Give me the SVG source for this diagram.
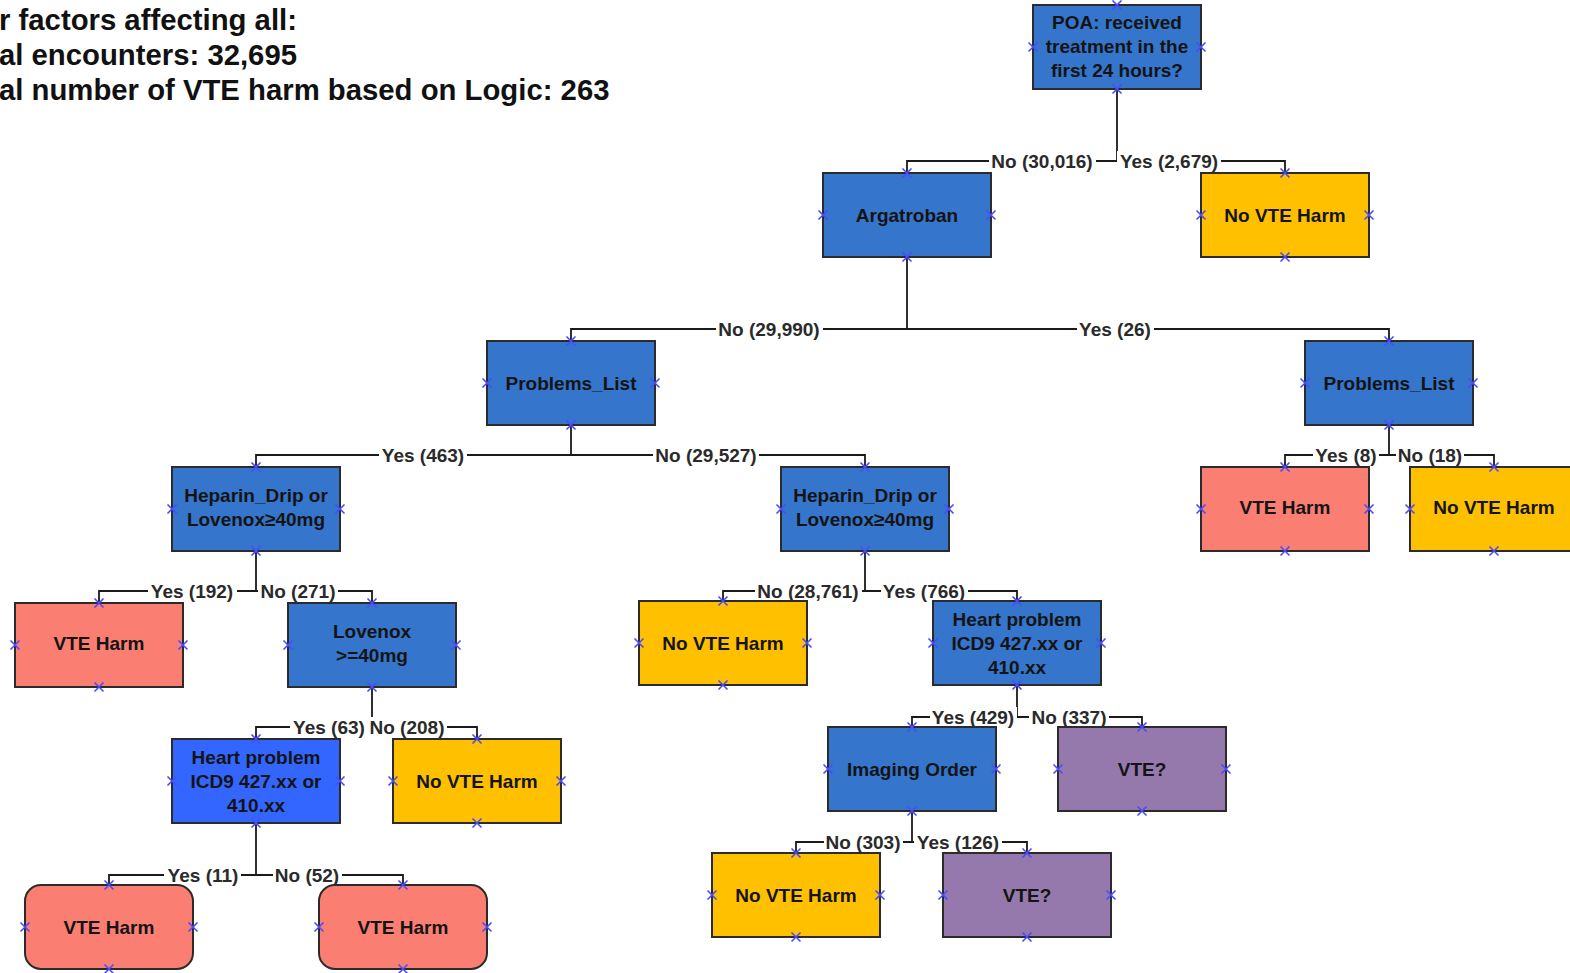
<svg xmlns="http://www.w3.org/2000/svg" xmlns:xlink="http://www.w3.org/1999/xlink" width="1570" height="973" viewBox="0 0 1570 973">
<style>
.box{stroke:#2b2b2b;stroke-width:2}
.blue{fill:#3575CB}
.bright{fill:#3366FF}
.yellow{fill:#FFC000}
.red{fill:#FA7F72}
.purple{fill:#9579AD}
.nt{font-family:"Liberation Sans",Arial,sans-serif;font-weight:bold;font-size:19px;fill:#141414;text-anchor:middle}
.lt{font-family:"Liberation Sans",Arial,sans-serif;font-weight:bold;font-size:19px;fill:#2a2a2a;text-anchor:middle}
.ttl{font-family:"Liberation Sans",Arial,sans-serif;font-weight:bold;font-size:29.3px;fill:#111}
.ln{fill:none;stroke:#1a1a1a;stroke-width:1.8}
.lb{fill:#ffffff}
</style>
<defs>
<path id="cp" d="M-4.5,-4.5 L4.5,4.5 M-4.5,4.5 L4.5,-4.5" stroke="#4a4aff" stroke-width="1.6" fill="none"/>
</defs>
<rect width="1570" height="973" fill="#ffffff"/>

<g id="title">
<text class="ttl" x="-1" y="30">r factors affecting all:</text>
<text class="ttl" x="-1" y="65">al encounters: 32,695</text>
<text class="ttl" x="-1" y="100">al number of VTE harm based on Logic: 263</text>
</g>

<g id="connectors">
<path class="ln" d="M1117,89 V161 M907,173 V161 H1285 V173"/>
<path class="ln" d="M907,257 V329 M571,341 V329 H1389 V341"/>
<path class="ln" d="M571,425 V455 M256,467 V455 H865 V467"/>
<path class="ln" d="M1389,425 V455 M1285,467 V455 H1494 V467"/>
<path class="ln" d="M256,551 V591 M99,603 V591 H372 V603"/>
<path class="ln" d="M865,551 V591 M723,601 V591 H1017 V601"/>
<path class="ln" d="M372,687 V727 M256,739 V727 H477 V739"/>
<path class="ln" d="M1017,685 V717 M912,727 V717 H1142 V727"/>
<path class="ln" d="M256,823 V875 M109,885 V875 H403 V885"/>
<path class="ln" d="M912,811 V842 M796,853 V842 H1027 V853"/>
<g id="labels">
<rect class="lb" x="989" y="151" width="107" height="20"/><text class="lt" x="1042" y="168">No (30,016)</text>
<rect class="lb" x="1117" y="151" width="104" height="20"/><text class="lt" x="1169" y="168">Yes (2,679)</text>
<rect class="lb" x="716" y="319" width="107" height="20"/><text class="lt" x="769" y="336">No (29,990)</text>
<rect class="lb" x="1077" y="319" width="77" height="20"/><text class="lt" x="1115" y="336">Yes (26)</text>
<rect class="lb" x="379" y="445" width="88" height="20"/><text class="lt" x="423" y="462">Yes (463)</text>
<rect class="lb" x="653" y="445" width="106" height="20"/><text class="lt" x="706" y="462">No (29,527)</text>
<rect class="lb" x="1313" y="445" width="66" height="20"/><text class="lt" x="1346" y="462">Yes (8)</text>
<rect class="lb" x="1396" y="445" width="68" height="20"/><text class="lt" x="1430" y="462">No (18)</text>
<rect class="lb" x="148" y="581" width="89" height="20"/><text class="lt" x="192" y="598">Yes (192)</text>
<rect class="lb" x="258" y="581" width="80" height="20"/><text class="lt" x="298" y="598">No (271)</text>
<rect class="lb" x="755" y="581" width="107" height="20"/><text class="lt" x="808" y="598">No (28,761)</text>
<rect class="lb" x="881" y="581" width="87" height="20"/><text class="lt" x="924" y="598">Yes (766)</text>
<rect class="lb" x="290" y="717" width="77" height="20"/><text class="lt" x="329" y="734">Yes (63)</text>
<rect class="lb" x="367" y="717" width="80" height="20"/><text class="lt" x="407" y="734">No (208)</text>
<rect class="lb" x="930" y="707" width="87" height="20"/><text class="lt" x="973" y="724">Yes (429)</text>
<rect class="lb" x="1029" y="707" width="80" height="20"/><text class="lt" x="1069" y="724">No (337)</text>
<rect class="lb" x="164" y="865" width="77" height="20"/><text class="lt" x="203" y="882">Yes (11)</text>
<rect class="lb" x="273" y="865" width="69" height="20"/><text class="lt" x="307" y="882">No (52)</text>
<rect class="lb" x="824" y="832" width="79" height="20"/><text class="lt" x="863" y="849">No (303)</text>
<rect class="lb" x="914" y="832" width="88" height="20"/><text class="lt" x="958" y="849">Yes (126)</text>
</g>
</g>

<g id="n-poa">
<rect class="box blue" x="1033" y="5" width="168" height="84"/>
<text class="nt" x="1117" y="29">POA: received</text>
<text class="nt" x="1117" y="53">treatment in the</text>
<text class="nt" x="1117" y="77">first 24 hours?</text>
<use href="#cp" x="1117" y="5"/><use href="#cp" x="1117" y="89"/><use href="#cp" x="1033" y="47"/><use href="#cp" x="1201" y="47"/>
</g>
<g id="n-argatroban">
<rect class="box blue" x="823" y="173" width="168" height="84"/>
<text class="nt" x="907" y="222">Argatroban</text>
<use href="#cp" x="907" y="173"/><use href="#cp" x="907" y="257"/><use href="#cp" x="823" y="215"/><use href="#cp" x="991" y="215"/>
</g>
<g id="n-novte-1">
<rect class="box yellow" x="1201" y="173" width="168" height="84"/>
<text class="nt" x="1285" y="222">No VTE Harm</text>
<use href="#cp" x="1285" y="173"/><use href="#cp" x="1285" y="257"/><use href="#cp" x="1201" y="215"/><use href="#cp" x="1369" y="215"/>
</g>
<g id="n-problems-1">
<rect class="box blue" x="487" y="341" width="168" height="84"/>
<text class="nt" x="571" y="390">Problems_List</text>
<use href="#cp" x="571" y="341"/><use href="#cp" x="571" y="425"/><use href="#cp" x="487" y="383"/><use href="#cp" x="655" y="383"/>
</g>
<g id="n-problems-2">
<rect class="box blue" x="1305" y="341" width="168" height="84"/>
<text class="nt" x="1389" y="390">Problems_List</text>
<use href="#cp" x="1389" y="341"/><use href="#cp" x="1389" y="425"/><use href="#cp" x="1305" y="383"/><use href="#cp" x="1473" y="383"/>
</g>
<g id="n-heparin-1">
<rect class="box blue" x="172" y="467" width="168" height="84"/>
<text class="nt" x="256" y="502">Heparin_Drip or</text>
<text class="nt" x="256" y="526">Lovenox≥40mg</text>
<use href="#cp" x="256" y="467"/><use href="#cp" x="256" y="551"/><use href="#cp" x="172" y="509"/><use href="#cp" x="340" y="509"/>
</g>
<g id="n-heparin-2">
<rect class="box blue" x="781" y="467" width="168" height="84"/>
<text class="nt" x="865" y="502">Heparin_Drip or</text>
<text class="nt" x="865" y="526">Lovenox≥40mg</text>
<use href="#cp" x="865" y="467"/><use href="#cp" x="865" y="551"/><use href="#cp" x="781" y="509"/><use href="#cp" x="949" y="509"/>
</g>
<g id="n-vte-1">
<rect class="box red" x="1201" y="467" width="168" height="84"/>
<text class="nt" x="1285" y="514">VTE Harm</text>
<use href="#cp" x="1285" y="467"/><use href="#cp" x="1285" y="551"/><use href="#cp" x="1201" y="509"/><use href="#cp" x="1369" y="509"/>
</g>
<g id="n-novte-2">
<rect class="box yellow" x="1410" y="467" width="168" height="84"/>
<text class="nt" x="1494" y="514">No VTE Harm</text>
<use href="#cp" x="1494" y="467"/><use href="#cp" x="1494" y="551"/><use href="#cp" x="1410" y="509"/>
</g>
<g id="n-vte-2">
<rect class="box red" x="15" y="603" width="168" height="84"/>
<text class="nt" x="99" y="650">VTE Harm</text>
<use href="#cp" x="99" y="603"/><use href="#cp" x="99" y="687"/><use href="#cp" x="15" y="645"/><use href="#cp" x="183" y="645"/>
</g>
<g id="n-lovenox">
<rect class="box blue" x="288" y="603" width="168" height="84"/>
<text class="nt" x="372" y="638">Lovenox</text>
<text class="nt" x="372" y="662">&gt;=40mg</text>
<use href="#cp" x="372" y="603"/><use href="#cp" x="372" y="687"/><use href="#cp" x="288" y="645"/><use href="#cp" x="456" y="645"/>
</g>
<g id="n-novte-3">
<rect class="box yellow" x="639" y="601" width="168" height="84"/>
<text class="nt" x="723" y="650">No VTE Harm</text>
<use href="#cp" x="723" y="601"/><use href="#cp" x="723" y="685"/><use href="#cp" x="639" y="643"/><use href="#cp" x="807" y="643"/>
</g>
<g id="n-heart-1">
<rect class="box blue" x="933" y="601" width="168" height="84"/>
<text class="nt" x="1017" y="626">Heart problem</text>
<text class="nt" x="1017" y="650">ICD9 427.xx or</text>
<text class="nt" x="1017" y="674">410.xx</text>
<use href="#cp" x="1017" y="601"/><use href="#cp" x="1017" y="685"/><use href="#cp" x="933" y="643"/><use href="#cp" x="1101" y="643"/>
</g>
<g id="n-heart-2">
<rect class="box bright" x="172" y="739" width="168" height="84"/>
<text class="nt" x="256" y="764">Heart problem</text>
<text class="nt" x="256" y="788">ICD9 427.xx or</text>
<text class="nt" x="256" y="812">410.xx</text>
<use href="#cp" x="256" y="739"/><use href="#cp" x="256" y="823"/><use href="#cp" x="172" y="781"/><use href="#cp" x="340" y="781"/>
</g>
<g id="n-novte-4">
<rect class="box yellow" x="393" y="739" width="168" height="84"/>
<text class="nt" x="477" y="788">No VTE Harm</text>
<use href="#cp" x="477" y="739"/><use href="#cp" x="477" y="823"/><use href="#cp" x="393" y="781"/><use href="#cp" x="561" y="781"/>
</g>
<g id="n-imaging">
<rect class="box blue" x="828" y="727" width="168" height="84"/>
<text class="nt" x="912" y="776">Imaging Order</text>
<use href="#cp" x="912" y="727"/><use href="#cp" x="912" y="811"/><use href="#cp" x="828" y="769"/><use href="#cp" x="996" y="769"/>
</g>
<g id="n-vteq-1">
<rect class="box purple" x="1058" y="727" width="168" height="84"/>
<text class="nt" x="1142" y="776">VTE?</text>
<use href="#cp" x="1142" y="727"/><use href="#cp" x="1142" y="811"/><use href="#cp" x="1058" y="769"/><use href="#cp" x="1226" y="769"/>
</g>
<g id="n-vte-3">
<rect class="box red" x="25" y="885" width="168" height="84" rx="16" ry="16"/>
<text class="nt" x="109" y="934">VTE Harm</text>
<use href="#cp" x="109" y="885"/><use href="#cp" x="109" y="969"/><use href="#cp" x="25" y="927"/><use href="#cp" x="193" y="927"/>
</g>
<g id="n-vte-4">
<rect class="box red" x="319" y="885" width="168" height="84" rx="16" ry="16"/>
<text class="nt" x="403" y="934">VTE Harm</text>
<use href="#cp" x="403" y="885"/><use href="#cp" x="403" y="969"/><use href="#cp" x="319" y="927"/><use href="#cp" x="487" y="927"/>
</g>
<g id="n-novte-5">
<rect class="box yellow" x="712" y="853" width="168" height="84"/>
<text class="nt" x="796" y="902">No VTE Harm</text>
<use href="#cp" x="796" y="853"/><use href="#cp" x="796" y="937"/><use href="#cp" x="712" y="895"/><use href="#cp" x="880" y="895"/>
</g>
<g id="n-vteq-2">
<rect class="box purple" x="943" y="853" width="168" height="84"/>
<text class="nt" x="1027" y="902">VTE?</text>
<use href="#cp" x="1027" y="853"/><use href="#cp" x="1027" y="937"/><use href="#cp" x="943" y="895"/><use href="#cp" x="1111" y="895"/>
</g>
</svg>
